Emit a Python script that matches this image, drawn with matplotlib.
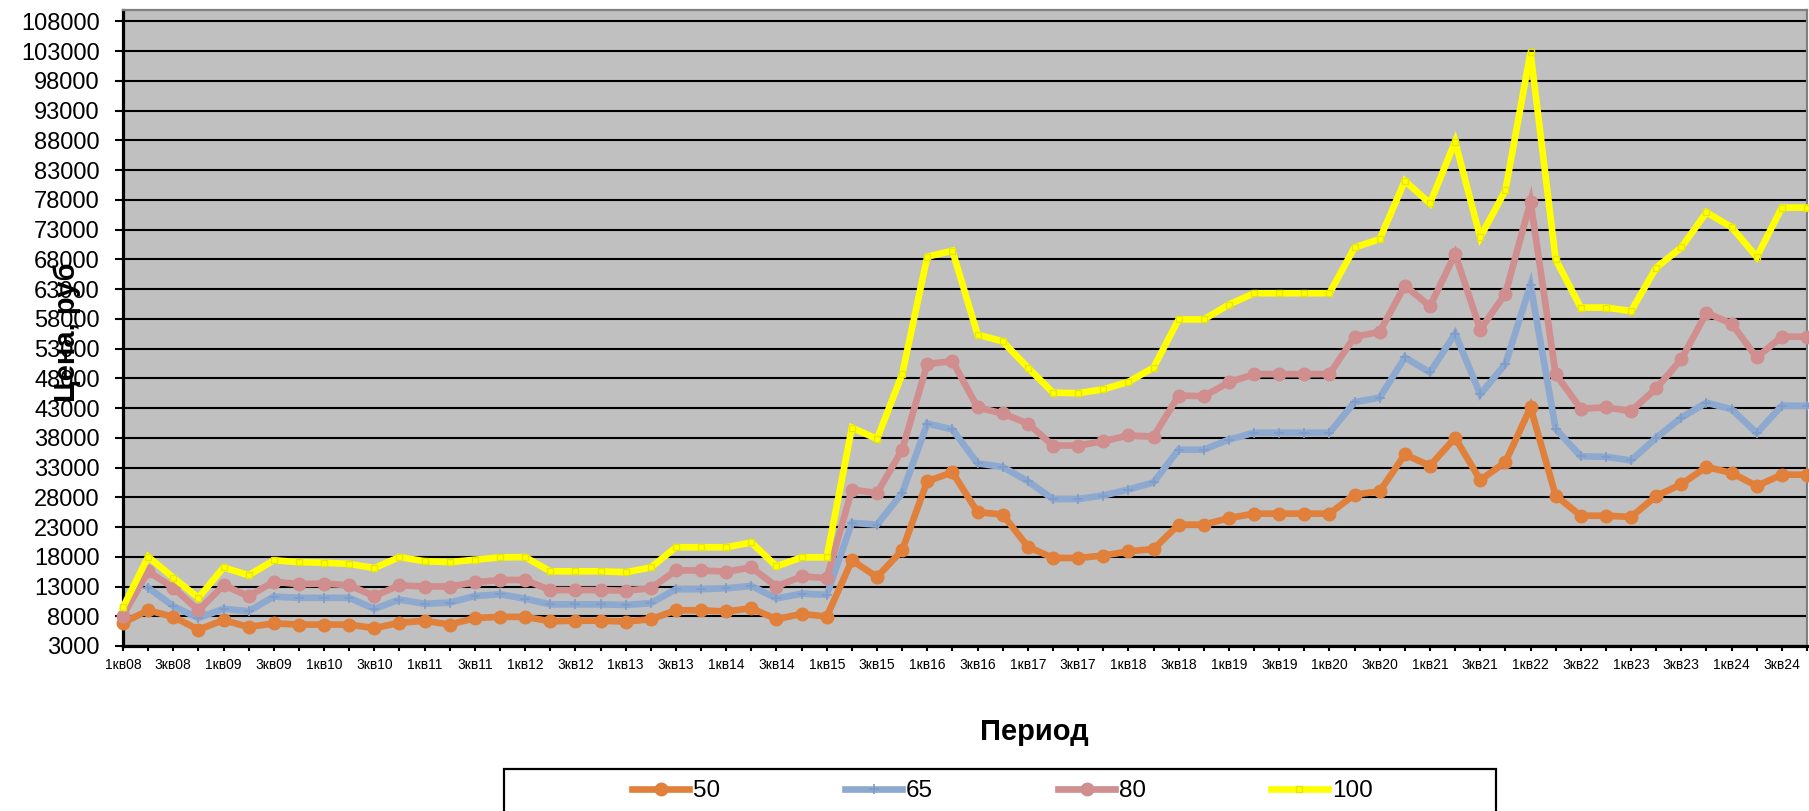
import numpy as np
import matplotlib
matplotlib.use("Agg")
import matplotlib.pyplot as plt
from matplotlib.patches import Rectangle
from matplotlib.ticker import FixedLocator, NullFormatter

plt.rcParams['font.family'] = ['Liberation Sans', 'DejaVu Sans']

years = ["08", "09", "10", "11", "12", "13", "14", "15", "16", "17",
         "18", "19", "20", "21", "22", "23", "24"]
quarters = ["1кв", "2кв", "3кв", "4кв"]
categories = [q + y for y in years for q in quarters]

series_names = ["50", "65", "80", "100"]

s50 = [6900, 9000, 7900, 5750, 7350, 6200, 6800, 6600, 6600, 6600,
       6000, 6900, 7250, 6600, 7700, 7900, 7900, 7150, 7250, 7250,
       7100, 7500, 9000, 9000, 8800, 9350, 7500, 8400, 7950, 17400,
       14600, 19100, 30700, 32200, 25500, 25100, 19700, 17800, 17800, 18200,
       18900, 19300, 23400, 23400, 24500, 25250, 25250, 25250, 25250, 28450,
       29000, 35200, 33300, 38000, 30900, 33900, 43100, 28300, 24900, 24900,
       24700, 28200, 30200, 33100, 32100, 29900, 31800, 31800]

s65 = [np.nan, 12800, 9700, 7700, 9250, 8850, 11300, 11100, 11100, 11100,
       9250, 10800, 10100, 10300, 11400, 11700, 10950, 10000, 10000, 10000,
       9900, 10200, 12550, 12550, 12700, 13100, 11000, 11800, 11600, 23700,
       23400, 28700, 40400, 39400, 33700, 33100, 30700, 27700, 27700, 28300,
       29300, 30500, 36000, 36000, 37700, 38850, 38850, 38850, 38850, 44000,
       44750, 51500, 49000, 55500, 45300, 50400, 63700, 39500, 34900, 34800,
       34200, 38000, 41400, 43900, 42800, 38800, 43400, 43400]

s80 = [8100, 15550, 12800, 9000, 13200, 11400, 13800, 13400, 13500, 13200,
       11400, 13200, 13000, 13000, 13700, 14100, 14100, 12400, 12400, 12400,
       12300, 12700, 15700, 15700, 15500, 16200, 13000, 14700, 14400, 29300,
       28700, 36000, 50400, 50900, 43100, 42100, 40400, 36700, 36700, 37400,
       38400, 38200, 45100, 45000, 47300, 48700, 48700, 48700, 48700, 55000,
       55800, 63600, 60100, 68900, 56200, 62200, 77700, 48700, 42900, 43100,
       42500, 46300, 51200, 59000, 57200, 51500, 55000, 55000]

s100 = [9500, 18000, 14500, 11100, 16200, 14900, 17400, 17100, 17000, 16800,
        16100, 17950, 17250, 17100, 17500, 17900, 17950, 15550, 15550, 15550,
        15400, 16200, 19600, 19600, 19600, 20400, 16400, 17900, 17900, 39700,
        37800, 48700, 68450, 69450, 55350, 54200, 49800, 45600, 45500, 46150,
        47400, 49800, 57900, 57900, 60400, 62300, 62300, 62300, 62300, 70000,
        71400, 81200, 77400, 87800, 71700, 79600, 102800, 68000, 59900, 59900,
        59300, 66600, 70000, 75900, 73400, 68400, 76700, 76700]

y_ticks = list(range(3000, 108001, 5000))

W, H = 1809, 811
fig = plt.figure(figsize=(W / 100, H / 100), dpi=100)
fig.patch.set_facecolor('white')

left_px, right_px, top_px, bottom_px = 123, 1807, 9.5, 646
ax = fig.add_axes([left_px / W, 1 - bottom_px / H,
                   (right_px - left_px) / W, (bottom_px - top_px) / H])
ax.set_facecolor('#C0C0C0')

x = np.arange(len(categories))

styles = [
    dict(color='#E0803A', marker='o', markersize=9, mfc='#E0803A', mec='#E0803A'),
    dict(color='#8EA9D0', marker='+', markersize=7, mew=1.2, mec='#7F9CC8'),
    dict(color='#D08E8E', marker='o', markersize=9, mfc='#D08E8E', mec='#D08E8E'),
    dict(color='#FFFF00', marker='s', markersize=4, mfc='none', mec='#E6E600', mew=1.0),
]
handles = []
for name, vals, st in zip(series_names, [s50, s65, s80, s100], styles):
    ln, = ax.plot(x, vals, lw=4.8, solid_joinstyle='miter', clip_on=False,
                  zorder=3, label=name, **st)
    handles.append(ln)

ax.set_xlim(0, len(categories) - 1)
ax.set_ylim(3000, 110000)
ax.set_yticks(y_ticks)
ax.set_yticklabels([str(v) for v in y_ticks])
ax.yaxis.grid(True, color='black', lw=1.5, zorder=1)
ax.set_axisbelow(True)

ax.xaxis.set_major_locator(FixedLocator(x[::2]))
ax.xaxis.set_minor_locator(FixedLocator(x[1::2]))
ax.set_xticklabels(categories[::2])
ax.xaxis.set_minor_formatter(NullFormatter())

ax.tick_params(axis='y', which='major', direction='out', length=5.8, width=1.5,
               labelsize=17, pad=11, colors='black')
ax.tick_params(axis='x', which='both', direction='out', length=3.6, width=1.5,
               labelsize=10, pad=5, colors='black')

for side in ['left', 'bottom']:
    ax.spines[side].set_color('black')
    ax.spines[side].set_linewidth(2.3)
for side in ['top', 'right']:
    ax.spines[side].set_color('#808080')
    ax.spines[side].set_linewidth(1.6)

fig.text(67 / W, 1 - 332 / H, 'Цена, руб', rotation=90, ha='center', va='center',
         fontsize=21, fontweight='bold')
fig.text(1034 / W, 1 - 740 / H, 'Период', ha='center', va='baseline',
         fontsize=21, fontweight='bold')

# legend box
fig.patches.append(Rectangle((504 / W, -0.05), (1496 - 504) / W, 0.05 + 1 - 769 / H,
                             transform=fig.transFigure, fill=False,
                             edgecolor='black', lw=1.6))
leg = fig.legend(handles=handles, labels=series_names, loc='center left',
                 bbox_to_anchor=(632 / W, 1 - 791 / H), ncol=4, frameon=False,
                 fontsize=17.5, handlelength=2.35, handletextpad=0.16,
                 columnspacing=5.14, borderpad=0, borderaxespad=0)

fig.savefig('out.png', dpi=100, facecolor='white')
